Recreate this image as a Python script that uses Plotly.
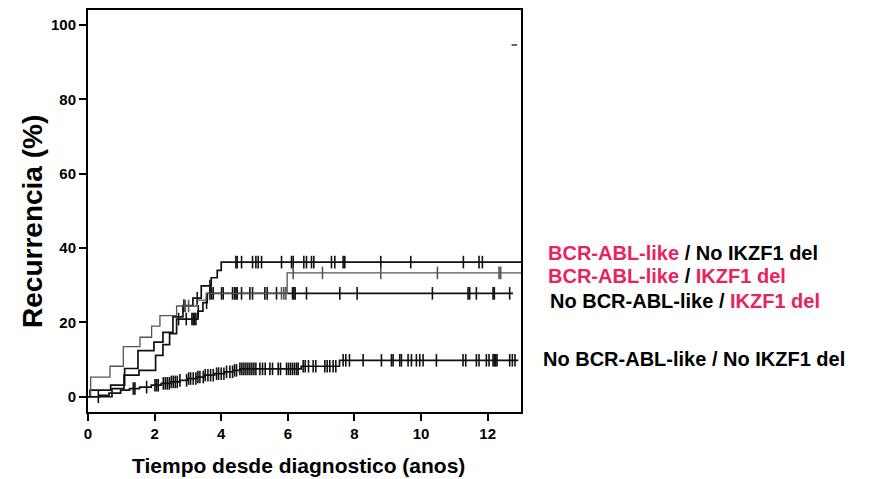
import numpy as np
import plotly.graph_objects as go

# ---- data ----
# BCR-ABL-like / No IKZF1 del  (final ~36 %)
t_bcr_no = [0, 0.06, 0.68, 1.10, 1.50, 1.98, 2.25, 2.55, 2.85, 3.15, 3.40, 3.70, 3.88, 4.00]
v_bcr_no = [0, 1.8, 3.1, 7.6, 12.4, 14.7, 17.3, 21.5, 24.5, 26.5, 29.8, 32.0, 34.0, 36.2]
end_bcr_no = 13.0
c_bcr_no = [2.88, 3.28, 3.66, 4.44, 4.48, 4.61, 4.94, 5.04, 5.11, 5.21, 5.81, 6.11, 6.16,
            6.48, 6.56, 6.71, 6.78, 7.31, 7.41, 7.66, 7.71, 8.79, 9.69, 11.27, 11.74, 11.84]

# BCR-ABL-like / IKZF1 del  (final ~33 %)
t_bcr_ik = [0, 0.08, 0.66, 1.06, 1.56, 1.91, 2.16, 2.66, 3.26, 3.55, 5.98]
v_bcr_ik = [0, 5.3, 8.2, 13.5, 16.0, 19.0, 21.8, 24.4, 26.0, 27.8, 33.3]
end_bcr_ik = 13.0
c_bcr_ik = [2.92, 3.02, 5.81, 5.88, 5.94, 6.16, 7.04, 8.79, 10.49, 12.34, 12.39]

# No BCR-ABL-like / IKZF1 del  (final ~28 %)
t_no_ik = [0, 0.72, 1.08, 1.53, 2.03, 2.25, 2.45, 2.66, 3.30, 3.45, 3.58]
v_no_ik = [0, 2.2, 5.8, 7.1, 11.1, 14.0, 17.0, 20.9, 23.0, 25.3, 27.8]
end_no_ik = 12.76
c_no_ik = [2.72, 2.95, 3.12, 3.16, 3.20, 3.24, 3.31, 3.56, 3.66, 3.71, 3.76, 4.01, 4.06,
           4.34, 4.40, 4.44, 4.48, 4.61, 4.86, 4.94, 5.31, 5.38, 5.66, 6.14, 6.18, 6.22,
           6.56, 7.56, 8.08, 10.34, 11.41, 11.46, 11.66, 12.16, 12.20, 12.66]

# No BCR-ABL-like / No IKZF1 del  (final ~10 %)
t_no_no = [0, 0.35, 0.63, 0.98, 1.25, 1.55, 1.90, 2.20, 2.50, 2.75, 3.00, 3.25, 3.50,
           3.80, 4.10, 4.35, 4.56, 6.40, 7.55]
v_no_no = [0, 0.4, 1.0, 1.8, 2.2, 2.6, 3.1, 3.6, 4.0, 4.4, 4.9, 5.3, 5.8,
           6.2, 6.7, 7.1, 7.5, 8.2, 9.8]
end_no_no = 12.92
c_no_no = [0.31, 1.36, 1.41, 1.76, 2.01, 2.06, 2.11, 2.26, 2.32, 2.38, 2.44, 2.50, 2.56,
           2.62, 2.68, 2.76, 2.96, 3.02, 3.08, 3.16, 3.24, 3.30, 3.36, 3.46, 3.52, 3.60,
           3.68, 3.76, 3.86, 3.92, 4.00, 4.08, 4.16, 4.26, 4.34, 4.40, 4.46, 4.56, 4.62,
           4.68, 4.74, 4.80, 4.86, 4.92, 4.98, 5.04, 5.16, 5.24, 5.32, 5.46, 5.54, 5.71,
           5.78, 5.96, 6.02, 6.08, 6.14, 6.20, 6.26, 6.31, 6.46, 6.52, 6.62, 6.76, 6.84,
           7.11, 7.18, 7.26, 7.36, 7.44, 7.66, 7.74, 7.85, 8.26, 8.81, 9.11, 9.16, 9.36,
           9.41, 9.61, 9.71, 9.86, 9.96, 10.06, 10.46, 11.26, 11.34, 11.66, 11.74, 11.96,
           12.04, 12.16, 12.20, 12.24, 12.28, 12.66, 12.74, 12.82]

stray_t = [12.8]
stray_v = [94.6]

x_ticks = [0, 2, 4, 6, 8, 10, 12]
y_ticks = [0, 20, 40, 60, 80, 100]

PINK = "#E8235E"
FONT = "Liberation Sans, Arial, sans-serif"


def step_value(ts, vs, t):
    i = int(np.searchsorted(np.asarray(ts), t, side="right")) - 1
    return vs[max(i, 0)]


fig = go.Figure()

series = [
    (t_bcr_no, v_bcr_no, end_bcr_no, c_bcr_no, "#111111", 1.7),
    (t_no_ik, v_no_ik, end_no_ik, c_no_ik, "#111111", 1.7),
    (t_bcr_ik, v_bcr_ik, end_bcr_ik, c_bcr_ik, "#555555", 1.3),
    (t_no_no, v_no_no, end_no_no, c_no_no, "#111111", 1.7),
]

for ts, vs, tend, cens, col, lw in series:
    xs = list(ts) + [tend]
    ys = list(vs) + [vs[-1]]
    fig.add_trace(go.Scatter(x=xs, y=ys, mode="lines", line=dict(color=col, width=lw, shape="hv"),
                             hoverinfo="skip", showlegend=False))
    cy = [step_value(ts, vs, c) for c in cens]
    fig.add_trace(go.Scatter(x=cens, y=cy, mode="markers",
                             marker=dict(symbol="line-ns", size=9,
                                         line=dict(color=col, width=1.6)),
                             hoverinfo="skip", showlegend=False))

fig.add_trace(go.Scatter(x=stray_t, y=stray_v, mode="markers",
                         marker=dict(symbol="line-ew", size=4, line=dict(color="#333", width=1.5)),
                         hoverinfo="skip", showlegend=False))

axis_common = dict(showline=True, linecolor="black", linewidth=2, mirror=True,
                   ticks="outside", ticklen=7, tickwidth=1.5, tickcolor="black",
                   showgrid=False, zeroline=False,
                   tickfont=dict(family=FONT, size=15, color="black", weight="bold"))

fig.update_xaxes(range=[0, 13.0], tickvals=x_ticks, ticktext=[str(v) for v in x_ticks], **axis_common)
fig.update_yaxes(range=[-4.1, 104], tickvals=y_ticks, ticktext=[str(v) for v in y_ticks], **axis_common)

# the page body has an 8 px margin, so the figure is laid out 8 px smaller and shifted
OFF = 8
W, H = 877 - OFF, 479 - OFF
L, T = 88 - OFF, 0
R = 877 - 521
B = H - (412 - OFF)
pw, ph = W - L - R, H - T - B


def px_to_paper(px, py):
    return (px - OFF - L) / pw, (H - B - (py - OFF)) / ph


legend_lines = [
    (f"<span style='color:{PINK}'>BCR-ABL-like</span> / No IKZF1 del", 546, 252),
    (f"<span style='color:{PINK}'>BCR-ABL-like</span> / <span style='color:{PINK}'>IKZF1 del</span>", 546, 275),
    (f"No BCR-ABL-like / <span style='color:{PINK}'>IKZF1 del</span>", 548, 300),
    ("No BCR-ABL-like / No IKZF1 del", 541, 359),
]

annotations = []
for txt, px, py in legend_lines:
    ax_, ay_ = px_to_paper(px, py)
    annotations.append(dict(text=txt, xref="paper", yref="paper", x=ax_, y=ay_,
                            xanchor="left", yanchor="middle", showarrow=False,
                            font=dict(family=FONT, size=20, color="black", weight="bold")))

ax_, ay_ = px_to_paper(298, 466)
annotations.append(dict(text="Tiempo desde diagnostico (anos)", xref="paper", yref="paper",
                        x=ax_, y=ay_, xanchor="center", yanchor="middle",
                        showarrow=False, font=dict(family=FONT, size=21, color="black", weight="bold")))
ax_, ay_ = px_to_paper(33, 221)
annotations.append(dict(text="Recurrencia (%)", xref="paper", yref="paper",
                        x=ax_, y=ay_, xanchor="center", yanchor="middle",
                        textangle=-90, showarrow=False,
                        font=dict(family=FONT, size=28, color="black", weight="bold")))

fig.update_layout(width=W, height=H, margin=dict(l=L, r=R, t=T, b=B),
                  paper_bgcolor="white", plot_bgcolor="white",
                  annotations=annotations, showlegend=False)

fig.write_html("out.html")
